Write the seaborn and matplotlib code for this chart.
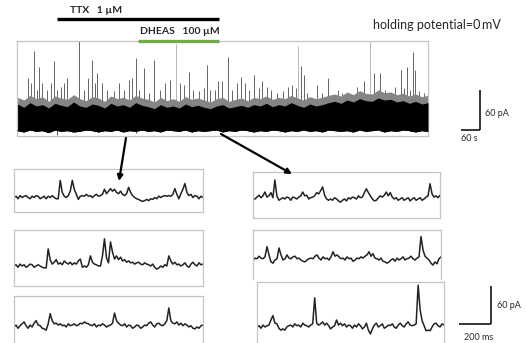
import numpy as np
import pandas as pd
import matplotlib
matplotlib.use("Agg")
import matplotlib.pyplot as plt
import seaborn as sns

# ---------------- data: long recording (time in s, current in pA) ----------------
env_t = list(range(0, 1321, 20))
band_top = [36, 31, 38, 33, 35, 30, 37, 34, 32, 39, 33, 31, 36, 34, 30, 37, 33, 35, 31, 38,
            34, 32, 29, 35, 31, 33, 30, 36, 32, 34, 31, 29, 33, 35, 30, 32, 34, 31, 35, 33,
            37, 32, 35, 33, 38, 34, 31, 36, 33, 35, 38, 40, 37, 42, 39, 44, 41, 40, 45, 42,
            43, 39, 41, 37, 40, 36, 38]
haze_top = [46, 42, 49, 44, 47, 40, 48, 45, 43, 50, 44, 41, 47, 45, 40, 48, 44, 46, 42, 49,
            45, 43, 39, 46, 41, 44, 40, 47, 43, 45, 42, 39, 44, 46, 40, 43, 45, 41, 46, 44,
            48, 43, 46, 44, 49, 45, 42, 47, 44, 46, 49, 51, 48, 54, 50, 56, 52, 51, 57, 53,
            54, 50, 52, 48, 51, 47, 49]
band_bottom = [-4, -6, -3, -5, -4, -7, -3, -5, -4, -6, -5, -3, -4, -6, -4, -5, -3, -6, -4, -5,
               -3, -5, -4, -6, -3, -4, -5, -3, -6, -4, -5, -4, -3, -6, -4, -5, -3, -4, -6, -4,
               -5, -3, -4, -6, -4, -5, -3, -5, -4, -6, -3, -4, -5, -4, -6, -3, -5, -4, -3, -6,
               -4, -5, -3, -4, -6, -4, -5]

spike_t = [32, 43, 52, 61, 70, 80, 96, 107, 117, 126, 139, 150, 158, 197, 214, 225, 239, 248, 256, 273,
           289, 310, 326, 342, 359, 367, 382, 391, 405, 423, 439,
           459, 475, 489, 523, 534, 551, 563, 582, 598, 608, 620, 636, 646, 657, 678, 689, 705, 719, 732,
           743, 759, 775, 786, 801, 815, 834, 855, 871, 882,
           894, 913, 920, 931, 947, 963, 979, 997, 1011, 1030, 1043, 1059, 1075, 1091, 1113, 1145, 1161,
           1166, 1182, 1198, 1214, 1234, 1244, 1254, 1263, 1272, 1279, 1290, 1306, 1319]
spike_pA = [75, 67, 116, 57, 91, 67, 57, 67, 100, 57, 62, 67, 75, 130, 57, 75, 102, 67, 83, 67,
            57, 55, 67, 57, 72, 75, 105, 57, 90, 52, 102,
            57, 67, 72, 67, 64, 84, 57, 55, 60, 94, 57, 57, 70, 70, 106, 57, 67, 77, 67,
            57, 80, 60, 70, 62, 57, 52, 55, 62, 64,
            60, 93, 80, 52, 45, 64, 52, 75, 47, 57, 52, 45, 50, 62, 70, 82, 57,
            82, 57, 52, 62, 87, 60, 92, 57, 114, 87, 55, 52, 50]
faint_spike_t = [510, 903, 1133]
faint_spike_pA = [126, 123, 130]
down_spike_t = [128, 380]
down_spike_pA = [-11, -8]

ttx_on, ttx_off = 127, 648
dheas_on, dheas_off = 387, 648

# ---------------- data: expanded sweeps (12.5 ms sampling, pA) ----------------
sample_ms = 12.5
L1 = [0, 2, -2, 3, 0, 2, 3, 0, -2, 2, 0, 3, 2, -2, 0, 2, -2, 2, 0, 3, 0, -2,
      -2,
      27, 8, 2, 0, 3, 10, 27, 13, 5, -3, 2,
      3, 2, 5, 2, 3, 0, 3, 5, 2, 3, 5,
      13, 6, 10, 14, 10, 13, 8, 6, 10, 5, 3, 6, 16, 8, 3, 0,
      -2, -3, -5, -6, -5, -3, -5, -2, -3, 0, -2, 2, 0, 2, 3,
      2, 3, 2, 5,
      14, 5, -2, 6, 13, 22, 8, 3, 5, 0, 3, 2, -2, 2, 0]
L2 = [0, 2, -2, 3, 0, 2, -2, 0, 3, 2, -2, 0, 2, 0, -2,
      -3, -3, 27, 10, 3,
      6, 10, 3, 5, 2, 8, 5, 3, 6, 2, 5, 3, 8, 11,
      -2, 0, -2, 2,
      16, 6, 3, 2, 0, 0, 16, 43, 13, 5, 38, 22, 11, 16, 10, 14, 8,
      10, 6, 8, 5, 6, 3, 5, 6, 3, 2, 5, 3, 2, 0, 3, -2, -5, -3, 0, -2, 2, 0,
      16, 8, 3,
      6, 2, 3, 0, 2, 5, 0, -2, 3, 6, 2, 0, 5, 2, 3]
L3 = [0, 3, -2, 2, 5, 8, 2, -2, 3, 0, 6, 10, 3, 2, -2, -3, -5,
      5, 21, 10, 5, 6, 3,
      5, 2, 3, 0, 5, 2, 3, 5, 2, 3, 6, 5, 8, 6, 5, 3, 2, 5, 0, 3, 2, 5, 3, 0, 2, 3,
      6, 22, 10, 6, 3,
      2, 5, 0, 3, 2, -2, 0, 3, 2, -2, 0, 3, 2, 6, 8, 3, 0, 5, 6, 3, 2, 5,
      10, 30, 10, 6,
      5, 8, 3, 6, 2, 5, 3, 0, 2, -2, -3, 0, -2, 2, 3]
R1 = [0, 0, 3, 6, 2, 5, 11, 3, 5, 10, 2,
      30, 5, -2, 0,
      2, 0, 3, 2, -2, 3, 2, 0, 3, 5,
      11, 5, 6, 0, 2, 3, 5, 10, 8, 13, 19, 6, 0, -2,
      0, -2, 2, 0, -3, -5, -2, 0, -3, 2, 0, 3, 2, 0, 5, 2, 3,
      10, 16, 10, 5, 0, -3, -2,
      2, 5, 3, 6, 11, 5, 10, 3,
      0, 2, -2, 0, 2, -2, 0, 2, -3, 0, 2, -2, 0, 2, -2, 0, 3,
      5, 24, 8, 3, 5, 2, 6]
R2 = [0, 3, 2, 6, 3, 2, 5,
      21, 8, -3, -5, 0, 2,
      19, 8, 0, 2,
      8, 3, 2, 5, 6, 2, 3, 0, -2, -3, 0, 2, 3, 2, 6, 8, 3, 0, 5, 2, 3, 0, 5,
      13, 6, 8, 5,
      2, 3, 0, 5, 2, 3, -2, 0, 3, 2, 5, 3, 6,
      8, 13, 6, 10, 3,
      2, 0, 3, -2, -3, -5, -3, 0, 2, -2, 3, 0, 2, 5, 0, 2, 3, 6, 2, 0, 3, 5,
      37, 16, 6, 3, 0, -5, -8, -3, -6, 2, 5]
R3 = [0, 2, -2, 3, 0, 2, 3,
      11, 18, 6, 5, -2, -5, -3, -5, 0,
      2, 3, 0, 5, 2, 3, 0, 6, 3, 2, 0, 3,
      5, 46, 6, 3,
      5, 8, 3, 6, 2, -3, 0, 2,
      11, 3, 6, 2,
      5, 0, 3, 2, -2, 3, 0, 5, 2, -3, 0, 6,
      -5, -11, -3,
      3, 6, 0, 2, 5, -2, 0, 3, 2, 5, 0, -2, 3, 6, 2, 0, 5, 8, 3, 2, 3,
      5, 66, 27, 10, 2, -6, -5, -6, 0, 5, 6, 2, 0, 5, 3]

# ---------------- figure ----------------
sns.set_style("white")
plt.rcParams['font.family'] = ['Lato', 'DejaVu Sans']
W, H = 526, 343
fig = plt.figure(figsize=(W / 100, H / 100), dpi=100)
BORDER = '#c4c4c4'


def px_axes(x0, y0, x1, y1, **kw):
    return fig.add_axes([x0 / W, 1 - y1 / H, (x1 - x0) / W, (y1 - y0) / H], **kw)


def style_box(ax, bottom=True):
    ax.set_xticks([])
    ax.set_yticks([])
    ax.set_xlabel('')
    ax.set_ylabel('')
    for name, sp in ax.spines.items():
        sp.set_color(BORDER)
        sp.set_linewidth(0.9)
        sp.set_visible(True)
    if not bottom:
        ax.spines['bottom'].set_visible(False)
    ax.patch.set_alpha(0)


# main recording: events first, noise band drawn on top of their bases
ax = px_axes(17, 41, 428, 136)
ax.vlines(spike_t, [0] * len(spike_t), spike_pA, color='#3c3c3c', lw=0.55, zorder=1)
ax.vlines(faint_spike_t, [0] * len(faint_spike_t), faint_spike_pA, color='#b5b5b5', lw=0.7, zorder=1)
ax.vlines(down_spike_t, [0] * len(down_spike_t), down_spike_pA, color='#333333', lw=0.6, zorder=1)
ax.fill_between(env_t, band_bottom, haze_top, color='#858585', lw=0, zorder=2)
ax.fill_between(env_t, band_bottom, band_top, color='black', lw=0, zorder=3)
main_df = pd.DataFrame({'t': env_t, 'pA': band_bottom})
sns.lineplot(data=main_df, x='t', y='pA', ax=ax, color='black', lw=0.6, zorder=4)
ax.set_xlim(-2, 1320)
ax.set_ylim(-12, 130.5)
style_box(ax)

# drug application bars (data coordinates of the recording)
ax.plot([ttx_on, ttx_off], [163.5, 163.5], color='black', lw=2.4, clip_on=False, solid_capstyle='butt')
ax.plot([dheas_on, dheas_off], [131, 131], color='#70ad47', lw=2.4, clip_on=False,
        solid_capstyle='butt', zorder=5)
ax.text(252, 176, 'TTX   1 µM', fontsize=7.5, fontweight='bold',
        ha='center', va='center', clip_on=False)
ax.text((dheas_on + dheas_off) / 2 + 3, 145, 'DHEAS   100 µM', fontsize=7.5, fontweight='bold',
        ha='center', va='center', clip_on=False)

# scale bar for recording: 60 s, 60 pA
ax.plot([1427, 1487], [-3, -3], color='black', lw=1.1, clip_on=False, solid_capstyle='butt')
ax.plot([1487, 1487], [-3, 57], color='black', lw=1.1, clip_on=False, solid_capstyle='butt')
ax.text(1503, 22.5, '60 pA', fontsize=6.5, ha='left', va='center', clip_on=False)
ax.text(1452, -15, '60 s', fontsize=6.5, ha='center', va='center', clip_on=False)

# expanded sweeps
insets = [
    (L1, (14, 169, 203, 212), (-22.9, 45.0), True),
    (L2, (14, 230, 203, 286), (-31.6, 56.9), True),
    (L3, (14, 296, 203, 343), (-25.3, 48.9), False),
    (R1, (253, 172, 440, 218), (-30.0, 42.6), True),
    (R2, (253, 230, 441, 279), (-30.0, 47.4), False),
    (R3, (257, 282, 444, 343), (-25.3, 71.0), False),
]
for trace, box, ylim, bottom in insets:
    a = px_axes(*box)
    df = pd.DataFrame({'ms': np.arange(len(trace)) * sample_ms, 'pA': trace})
    sns.lineplot(data=df, x='ms', y='pA', ax=a, color='#222222', lw=1.1)
    a.set_xlim(0, (len(trace) - 1) * sample_ms)
    a.set_ylim(*ylim)
    style_box(a, bottom=bottom)

# scale bar for sweeps: 200 ms, 60 pA
sb = px_axes(459, 286, 491, 324)
sb.plot([0, 200], [0, 0], color='black', lw=1.1, clip_on=False, solid_capstyle='butt')
sb.plot([200, 200], [0, 60], color='black', lw=1.1, clip_on=False, solid_capstyle='butt')
sb.set_xlim(0, 200)
sb.set_ylim(0, 60)
sb.axis('off')
sb.text(236, 30, '60 pA', fontsize=6.5, ha='left', va='center', clip_on=False)
sb.text(125, -21, '200 ms', fontsize=6.5, ha='center', va='center', clip_on=False)

# overlay: label and arrows
ov = fig.add_axes([0, 0, 1, 1])
ov.set_xlim(0, W)
ov.set_ylim(H, 0)
ov.axis('off')
ov.patch.set_alpha(0)
ov.text(437, 25, 'holding potential=0\u2009mV', fontsize=9, ha='center', va='center',
        family=['Lato', 'DejaVu Sans'])
ov.annotate('', xy=(119, 181), xytext=(126, 138),
            arrowprops=dict(arrowstyle='-|>', lw=1.6, color='black', mutation_scale=8,
                            shrinkA=0, shrinkB=0))
ov.annotate('', xy=(292, 174), xytext=(221, 134),
            arrowprops=dict(arrowstyle='-|>', lw=1.6, color='black', mutation_scale=8,
                            shrinkA=0, shrinkB=0))

fig.savefig('out.png', dpi=100)
